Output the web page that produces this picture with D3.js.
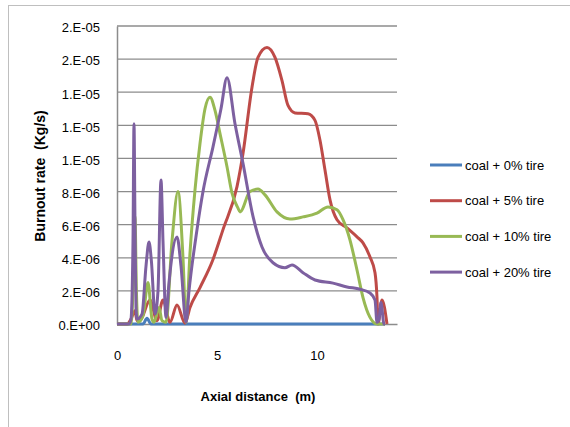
<!DOCTYPE html>
<html><head><meta charset="utf-8">
<script src="https://cdn.jsdelivr.net/npm/d3@7"></script>
<style>body{margin:0;background:#fff}text{font-family:"Liberation Sans",Arial,sans-serif}</style>
</head><body><svg id="c" width="570" height="427"></svg>
<script>
// values in units of 1e-6 kg/s, x in m
const seriesNames = ["coal + 0% tire","coal + 5% tire","coal + 10% tire","coal + 20% tire"];
const colors = ["#4a7ebb","#be4b48","#98b954","#7d60a0"];
const yTickValues = [0,2,4,6,8,10,12,14,16,18];
const yTickLabels = ["0.E+00","2.E-06","4.E-06","6.E-06","8.E-06","1.E-05","1.E-05","1.E-05","2.E-05","2.E-05"];
const xTickValues = [0,5,10];
const xTickLabels = ["0","5","10"];

const tire0 = [[0,0],[1.3,0],[1.5,0.35],[1.7,0],[13.4,0]];
const tire5 = [[0,0],[0.5,0],[0.7,0.3],[0.9,0.8],[1.0,0.2],[1.2,0.3],[1.65,1.45],[2.0,0.2],[2.3,1.45],[2.65,0.1],[3.0,1.15],[3.4,0.05],[3.65,1.0],[4.15,2.2],[4.8,3.9],[5.3,5.7],[6.0,8.3],[6.3,10.3],[6.75,14.3],[7.05,16.1],[7.5,16.7],[7.9,16.1],[8.25,14.7],[8.55,13.2],[8.9,12.75],[9.55,12.7],[9.9,12.3],[10.15,11.1],[10.4,9.3],[10.65,7.5],[11.0,6.3],[11.5,5.8],[12.0,5.26],[12.3,4.9],[12.65,4.05],[12.9,3.1],[13.0,1.6],[13.05,0],[13.25,1.45],[13.5,0]];
const tire10 = [[0,0],[0.7,0],[0.8,2],[0.9,6.5],[0.97,2],[1.05,0.1],[1.3,0.5],[1.55,2.5],[1.75,0.3],[1.85,0.1],[2.1,1.0],[2.25,0.2],[2.45,0.1],[2.75,5.0],[3.05,8.0],[3.3,4.0],[3.45,0.1],[3.65,4.3],[3.9,8.1],[4.15,10.9],[4.4,13.0],[4.65,13.7],[4.9,12.9],[5.15,11.5],[5.5,9.5],[5.75,7.9],[6.05,7.0],[6.15,6.77],[6.65,8.0],[7.05,8.15],[7.4,7.8],[8.0,6.77],[8.65,6.34],[9.3,6.47],[10.0,6.7],[10.55,7.07],[11.0,6.9],[11.3,6.3],[11.65,5.07],[12.0,3.26],[12.3,1.6],[12.65,0.4],[13.0,0],[13.4,0]];
const tire20 = [[0,0],[0.6,0],[0.7,0.3],[0.8,5],[0.85,12.1],[0.9,6],[0.95,1],[1.0,0.3],[1.25,0.6],[1.45,3.5],[1.6,4.95],[1.72,3.8],[1.9,0.6],[2.05,2.0],[2.2,8.7],[2.3,5],[2.45,0.4],[2.6,2.5],[3.0,5.26],[3.2,3.5],[3.45,0.1],[3.6,2.0],[4.0,5.7],[4.3,8.0],[4.8,10.7],[5.2,13.0],[5.5,14.88],[5.9,12.1],[6.3,9.7],[6.8,6.5],[7.25,4.65],[7.8,3.7],[8.4,3.4],[8.75,3.56],[9.3,3.1],[9.9,2.66],[10.8,2.47],[11.5,2.24],[12.15,2.1],[12.65,1.87],[12.9,1.45],[13.0,0.1],[13.1,0.3],[13.2,1.3],[13.35,0],[13.4,0]];
const allSeries = [tire0, tire5, tire10, tire20];

const svg = d3.select("#c");
// outer border (left/top visible)
svg.append("rect").attr("x",8.5).attr("y",5.5).attr("width",600).attr("height",500)
  .attr("fill","none").attr("stroke","#bfbfbf").attr("stroke-width",1);

const L=117, R=397, T=26, B=324;
const x = d3.scaleLinear().domain([0,14]).range([L,R]);
const y = d3.scaleLinear().domain([0,18]).range([B,T]);

// gridlines
svg.append("g").selectAll("line").data(yTickValues.slice(1)).join("line")
  .attr("x1",L).attr("x2",R).attr("y1",d=>y(d)).attr("y2",d=>y(d))
  .attr("stroke","#8c8c8c").attr("stroke-width",1.3);

// y axis
const ya = svg.append("g").attr("transform",`translate(${L},0)`)
  .call(d3.axisLeft(y).tickValues(yTickValues).tickSize(0).tickPadding(17)
    .tickFormat((d,i)=>yTickLabels[i]));
ya.select(".domain").attr("stroke","#8c8c8c").attr("stroke-width",1.5);
ya.selectAll("text").attr("font-size",13).attr("fill","#000").attr("dy","0.45em")
  .attr("font-family","Liberation Sans, Arial, sans-serif");

// x axis (labels placed below)
const xa = svg.append("g").attr("transform",`translate(0,${B})`)
  .call(d3.axisBottom(x).tickValues(xTickValues).tickSize(0).tickPadding(27)
    .tickFormat((d,i)=>xTickLabels[i]));
xa.select(".domain").attr("stroke","#8c8c8c").attr("stroke-width",1.5);
xa.selectAll("text").attr("font-size",13).attr("fill","#000")
  .attr("font-family","Liberation Sans, Arial, sans-serif");

// series
const line = d3.line().x(d=>x(d[0])).y(d=>y(d[1])).curve(d3.curveMonotoneX);
svg.append("g").selectAll("path").data(allSeries).join("path")
  .attr("d",line).attr("fill","none").attr("stroke",(d,i)=>colors[i])
  .attr("stroke-width",3).attr("stroke-linejoin","round");

// titles
svg.append("text").attr("x",258).attr("y",401).attr("text-anchor","middle")
  .attr("font-size",13).attr("font-weight","bold").style("white-space","pre")
  .text("Axial distance  (m)");
svg.append("text").attr("transform","translate(45,176) rotate(-90)").attr("text-anchor","middle")
  .attr("font-size",14).attr("font-weight","bold").style("white-space","pre")
  .text("Burnout rate  (Kg/s)");

// legend
const leg = svg.append("g").selectAll("g").data(seriesNames).join("g")
  .attr("transform",(d,i)=>`translate(430,${165+i*35.7})`);
leg.append("line").attr("x1",0).attr("x2",32).attr("stroke",(d,i)=>colors[i]).attr("stroke-width",3);
leg.append("text").attr("x",35).attr("dy","0.35em").attr("font-size",13).text(d=>d);
</script></body></html>
